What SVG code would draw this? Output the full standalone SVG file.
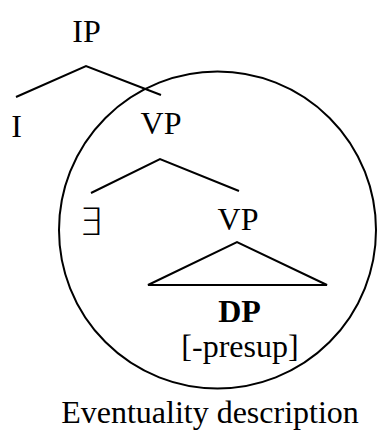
<svg xmlns="http://www.w3.org/2000/svg" width="377" height="432" viewBox="0 0 377 432">
<style>
text{font-family:"Liberation Serif","Times New Roman",serif;font-size:32px;fill:#000;text-anchor:middle}
.b{font-weight:bold}
.sym{font-family:"DejaVu Sans",sans-serif;font-size:38px;font-weight:200}
.ln{stroke:#000;stroke-width:2;fill:none}
</style>
<rect width="377" height="432" fill="#fff"/>
<g id="connectors">
<polyline class="ln" points="16,97 86,66 161,95"/>
<polyline class="ln" points="91,193 160,159 239,191"/>
<polygon class="ln" points="148,285 237,242 327,285"/>
</g>
<g id="circle"><circle class="ln" cx="217.5" cy="230" r="158.5"/></g>
<g id="IP"><text x="86.5" y="42">IP</text></g>
<g id="I"><text x="16.5" y="137">I</text></g>
<g id="VP1"><text x="161" y="134">VP</text></g>
<g id="exists"><text class="sym" x="90.5" y="235">∃</text></g>
<g id="VP2"><text x="238" y="230">VP</text></g>
<g id="DP"><text class="b" x="239.5" y="322">DP</text><text x="240" y="357">[-presup]</text></g>
<g id="label"><text x="210" y="423">Eventuality description</text></g>
</svg>
